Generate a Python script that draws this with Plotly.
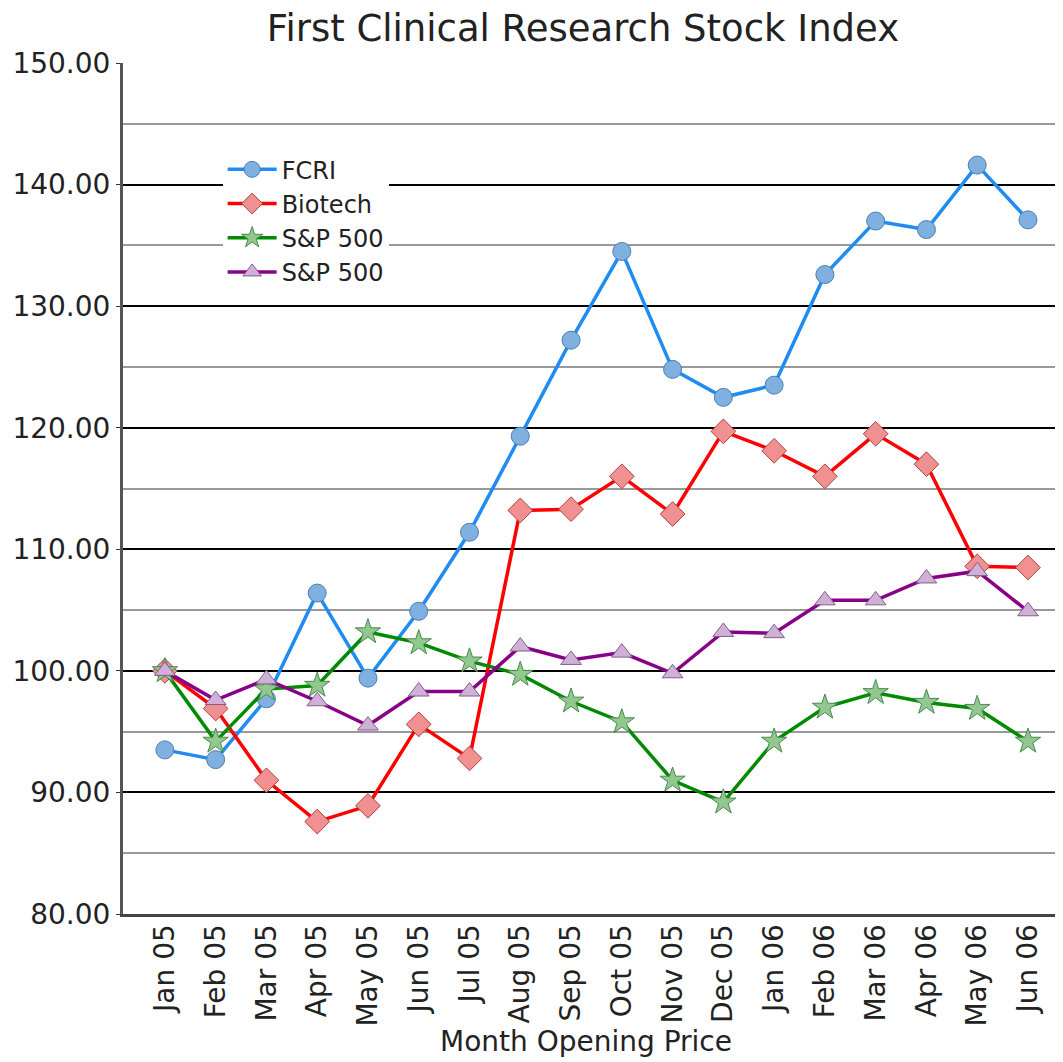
import plotly.graph_objects as go

months = ["Jan 05", "Feb 05", "Mar 05", "Apr 05", "May 05", "Jun 05", "Jul 05", "Aug 05",
          "Sep 05", "Oct 05", "Nov 05", "Dec 05", "Jan 06", "Feb 06", "Mar 06", "Apr 06",
          "May 06", "Jun 06"]
fcri = [93.5, 92.7, 97.7, 106.4, 99.4, 104.9, 111.4, 119.3, 127.2, 134.5, 124.8, 122.5,
        123.5, 132.6, 137.0, 136.3, 141.6, 137.1]
biotech = [100.0, 96.9, 91.0, 87.6, 88.9, 95.6, 92.8, 113.2, 113.3, 116.0, 112.9, 119.7,
           118.1, 116.0, 119.5, 117.0, 108.6, 108.5]
sp500_a = [100.0, 94.2, 98.5, 98.8, 103.2, 102.3, 100.8, 99.7, 97.5, 95.8, 91.0, 89.2,
           94.2, 97.0, 98.2, 97.4, 96.9, 94.2]
sp500_b = [100.0, 97.6, 99.3, 97.5, 95.5, 98.3, 98.3, 102.0, 100.9, 101.5, 99.8, 103.2,
           103.1, 105.8, 105.8, 107.6, 108.2, 104.9]

series = [
    ("FCRI", fcri, "#1e8cf0", "circle", "#80b0e0", "#4a7fb5", 18),
    ("Biotech", biotech, "#ff0000", "diamond", "#f09090", "#b04040", 19),
    ("S&P 500", sp500_a, "#008a00", "star", "#90c890", "#4a8a4a", 19),
    ("S&P 500", sp500_b, "#880088", "triangle-up", "#d0b0d8", "#806088", 18),
]

fig = go.Figure()
for name, vals, lc, sym, fc, oc, sz in series:
    fig.add_trace(go.Scatter(
        x=list(range(len(months))), y=vals, name=name, mode="lines+markers",
        line=dict(color=lc, width=3.5),
        marker=dict(symbol=sym, size=sz, color=fc, line=dict(color=oc, width=1)),
    ))

fig.update_layout(
    width=1055, height=1058,
    margin=dict(l=115, r=0, t=55, b=152),
    paper_bgcolor="white", plot_bgcolor="white",
    font=dict(family="DejaVu Sans, Verdana, sans-serif", color="#222222", size=28),
    title=dict(text="First Clinical Research Stock Index", x=0.545, xanchor="center",
               y=1 - 20 / 1058, yanchor="middle", font=dict(size=37, color="#222222")),
    showlegend=True,
    legend=dict(x=0.106, y=0.901, xanchor="left", yanchor="top", bgcolor="white",
                font=dict(size=24, color="#222222"), tracegroupgap=0,
                itemwidth=49),
    xaxis=dict(
        tickmode="array", tickvals=list(range(len(months))), ticktext=months,
        tickangle=-90, range=[-0.825, 17.69], showgrid=False, zeroline=False,
        showline=True, linecolor="#444444", linewidth=3, ticks="",
        tickfont=dict(size=28), ticklabelstandoff=-4,
    ),
    yaxis=dict(
        range=[80, 150], dtick=10, tickformat=".2f", showgrid=True,
        gridcolor="#000000", gridwidth=1.5, zeroline=False,
        showline=True, linecolor="#555555", linewidth=3,
        ticks="outside", ticklen=4, tickcolor="#333333",
        tickfont=dict(size=28),
        minor=dict(dtick=5, showgrid=True, gridcolor="#999999", gridwidth=1.5),
    ),
    annotations=[dict(text="Month Opening Price", xref="paper", yref="paper",
                      x=0.493, y=-0.150, xanchor="center", yanchor="middle",
                      showarrow=False, font=dict(size=28, color="#222222"))],
)

fig.write_html("out.html")
